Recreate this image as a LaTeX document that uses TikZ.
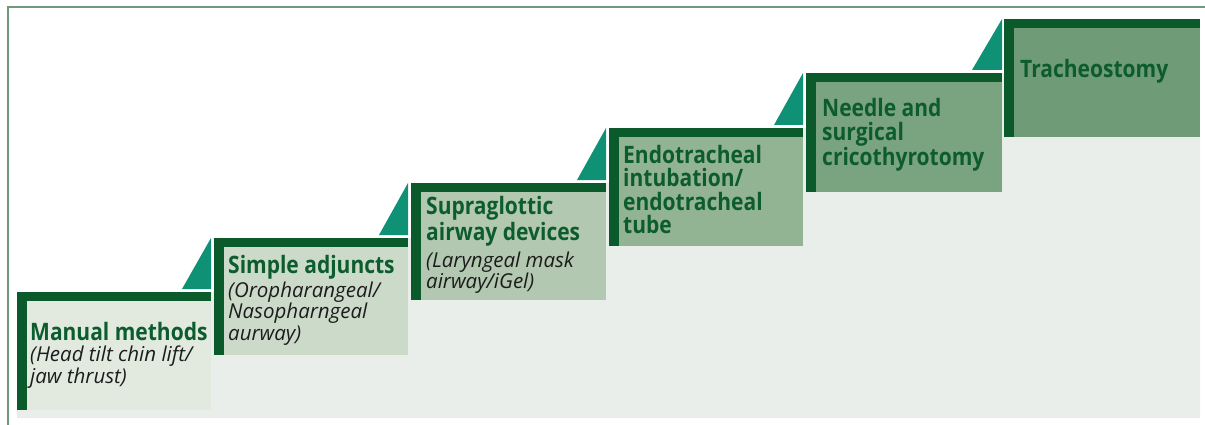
\documentclass[tikz,border=0pt]{standalone}
\usepackage{fontspec}
\setmainfont{Open Sans}
\newfontfamily\headfont{Open Sans}[FakeStretch=0.875]
\usetikzlibrary{positioning}

\definecolor{bardark}{HTML}{0A5A2C}
\definecolor{headgreen}{HTML}{0D5C2E}
\definecolor{rampteal}{HTML}{0F9176}
\definecolor{bandlight}{HTML}{E9EEEA}
\definecolor{framegreen}{HTML}{6F9A7A}
\definecolor{notegray}{HTML}{1C1C1C}
\definecolor{stepA}{HTML}{E2EAE0}
\definecolor{stepB}{HTML}{CCDACA}
\definecolor{stepC}{HTML}{B3C8B0}
\definecolor{stepD}{HTML}{93B492}
\definecolor{stepE}{HTML}{7AA47F}
\definecolor{stepF}{HTML}{6F9C76}

\begin{document}
\begin{tikzpicture}[
    x=1pt, y=-1pt,
    stepbox/.style={draw=none, inner sep=0pt, anchor=north west},
    bar/.style={fill=bardark},
    ramp/.style={fill=rampteal},
    frame/.style={draw=framegreen, line width=1.5pt},
    head/.style={anchor=base west, inner sep=0pt, align=left, text=headgreen,
                 font=\headfont\fontsize{24}{23.5}\selectfont\bfseries},
    note/.style={anchor=base west, inner sep=0pt, align=left, text=notegray,
                 font=\fontsize{20.5}{21.5}\selectfont\itshape}
]
\useasboundingbox (0,0) rectangle (1205,425);

% Frame and light band under the staircase
\draw[frame] (8,425) -- (8,7) -- (1205,7);
\fill[bandlight] (17,418) -- (17,292) -- (214,292) -- (214,238) -- (411,238)
    -- (411,183) -- (609,183) -- (609,128) -- (806,128) -- (806,73)
    -- (1004,73) -- (1004,19) -- (1200,19) -- (1200,418) -- cycle;

% Step 1: Manual methods (base = last line)
\node[stepbox, fill=stepA, minimum width=184, minimum height=110] (manual) at (27,300) {};
\fill[bar] (17,292) rectangle (211,301);
\fill[bar] (17,292) rectangle (27,410);
\node[head] (manualhead) at (30,340) {Manual methods};
\node[note] (manualnote) at (30,383) {(Head tilt chin lift/\\jaw thrust)};

% Step 2: Simple adjuncts
\fill[ramp] (182,289) -- (211,289) -- (211,238) -- cycle;
\node[stepbox, fill=stepB, minimum width=184, minimum height=109] (adjunct) at (224,246) {};
\fill[bar] (214,238) rectangle (408,247);
\fill[bar] (214,238) rectangle (224,355);
\node[head] (adjuncthead) at (228,273) {Simple adjuncts};
\node[note] (adjunctnote) at (228,340) {(Oropharangeal/\\Nasopharngeal\\aurway)};

% Step 3: Supraglottic airway devices
\fill[ramp] (379,235) -- (408,235) -- (408,183) -- cycle;
\node[stepbox, fill=stepC, minimum width=185, minimum height=109] (supra) at (421,191) {};
\fill[bar] (411,183) rectangle (606,192);
\fill[bar] (411,183) rectangle (421,300);
\node[head] (suprahead) at (426,240) {Supraglottic\\airway devices};
\node[note] (supranote) at (426,288.5) {(Laryngeal mask\\airway/iGel)};

% Step 4: Endotracheal intubation
\fill[ramp] (577,180) -- (606,180) -- (606,128) -- cycle;
\node[stepbox, fill=stepD, minimum width=184, minimum height=110] (endo) at (619,136) {};
\fill[bar] (609,128) rectangle (803,137);
\fill[bar] (609,128) rectangle (619,246);
\node[head] (endohead) at (623,233.5) {Endotracheal\\intubation/\\endotracheal\\tube};

% Step 5: Needle and surgical cricothyrotomy
\fill[ramp] (774,125) -- (803,125) -- (803,73) -- cycle;
\node[stepbox, fill=stepE, minimum width=186, minimum height=111] (crico) at (816,81) {};
\fill[bar] (806,73) rectangle (1002,82);
\fill[bar] (806,73) rectangle (816,192);
\node[head] (cricohead) at (822,165.5) {Needle and\\surgical\\cricothyrotomy};

% Step 6: Tracheostomy
\fill[ramp] (972,70) -- (1002,70) -- (1002,19) -- cycle;
\node[stepbox, fill=stepF, minimum width=186, minimum height=110] (trach) at (1014,27) {};
\fill[bar] (1004,19) rectangle (1200,28);
\fill[bar] (1004,19) rectangle (1014,137);
\node[head] (trachhead) at (1020,78) {Tracheostomy};

\end{tikzpicture}
\end{document}
